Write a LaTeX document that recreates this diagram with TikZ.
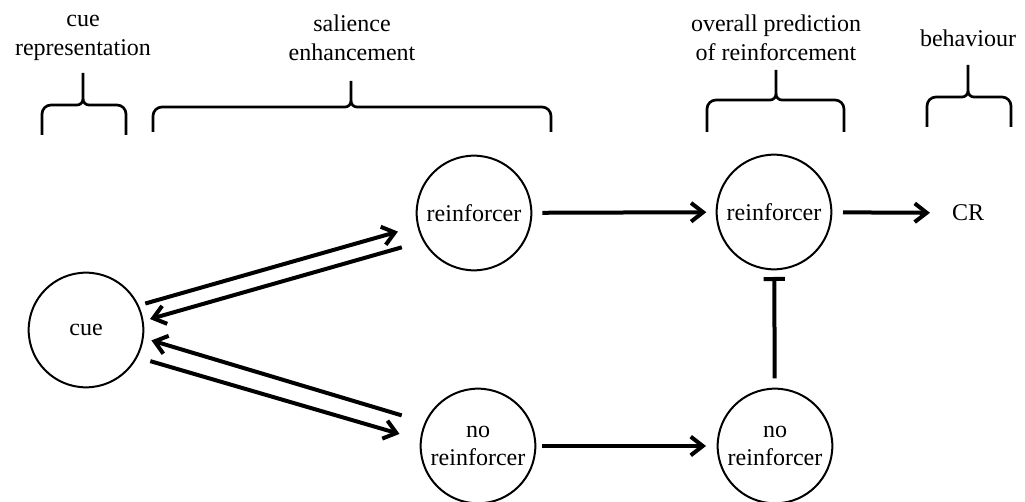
\documentclass[tikz,border=0pt]{standalone}
\usepackage{fontspec}
\setmainfont{Liberation Serif}
\usetikzlibrary{arrows.meta}

\begin{document}
\begin{tikzpicture}[x=0.75pt,y=-0.75pt,
		every node/.style={font=\fontsize{18}{21.5}\selectfont},
		unit/.style={draw,circle,line width=1.5pt,minimum size=86pt,inner sep=0pt,align=center},
		link/.style={line width=3pt,-{Straight Barb[length=9pt,width=14pt]}},
		inhib/.style={line width=3pt,-{Bar[width=16pt]}},
		bracket/.style={line width=2pt,line join=round}]
		
		\useasboundingbox (0,0) rectangle (1025,502);
		
		% Draw the units
		\node[unit] (cue) at (86,330) {cue};
		\node[unit] (rA) at (474,213) {reinforcer};
		\node[unit] (nA) at (478,446) {no\\reinforcer};
		\node[unit] (rB) at (774,212) {reinforcer};
		\node[unit] (nB) at (775,446) {no\\reinforcer};
		\node (cr) at (968,213) {CR};
		
		% Cue <-> salience units
		\draw[link,shorten <=5pt,shorten >=15pt] (cue.25) -- (rA.193);
		\draw[link,shorten <=16.5pt,shorten >=5pt] (rA.209) -- (cue.9);
		\draw[link,shorten <=18pt,shorten >=6pt] (nA.156) -- (cue.-8);
		\draw[link,shorten <=10pt,shorten >=16pt] (cue.-28) -- (nA.174);
		
		% Prediction and response
		\draw[link,shorten <=7.5pt,shorten >=7pt] (rA) -- (rB);
		\draw[link,shorten <=4.5pt,shorten >=8pt] (nA) -- (nB);
		\draw[link,shorten <=8pt,shorten >=13pt] (rB) -- (cr);
		\draw[inhib,shorten <=7pt,shorten >=5pt] (nB) -- (rB);
		
		% Braces over the stages
		\foreach \xl/\xr/\xc/\ym/\yt/\yb in {42/126/83/105/73/135, 153/551/351/107/81/132,
			707/844/776/100/70/132, 927/1011/968/97/65/127}{
			\draw[bracket] (\xl,\yb) -- (\xl,\ym+9) to[out=90,in=180] (\xl+9,\ym)
				-- (\xc-6,\ym) to[out=0,in=-90] (\xc,\ym-6) -- (\xc,\yt);
			\draw[bracket] (\xr,\yb) -- (\xr,\ym+9) to[out=90,in=0] (\xr-9,\ym)
				-- (\xc+6,\ym) to[out=180,in=-90] (\xc,\ym-6);
		}
		
		% Stage labels
		\node[align=center] (lcue) at (83,38) {cue\\representation};
		\node[align=center] (lsal) at (352,38) {salience\\enhancement};
		\node[align=center] (lpred) at (776,38) {overall prediction\\of reinforcement};
		\node (lbeh) at (968,38) {behaviour};
	\end{tikzpicture}
\end{document}
